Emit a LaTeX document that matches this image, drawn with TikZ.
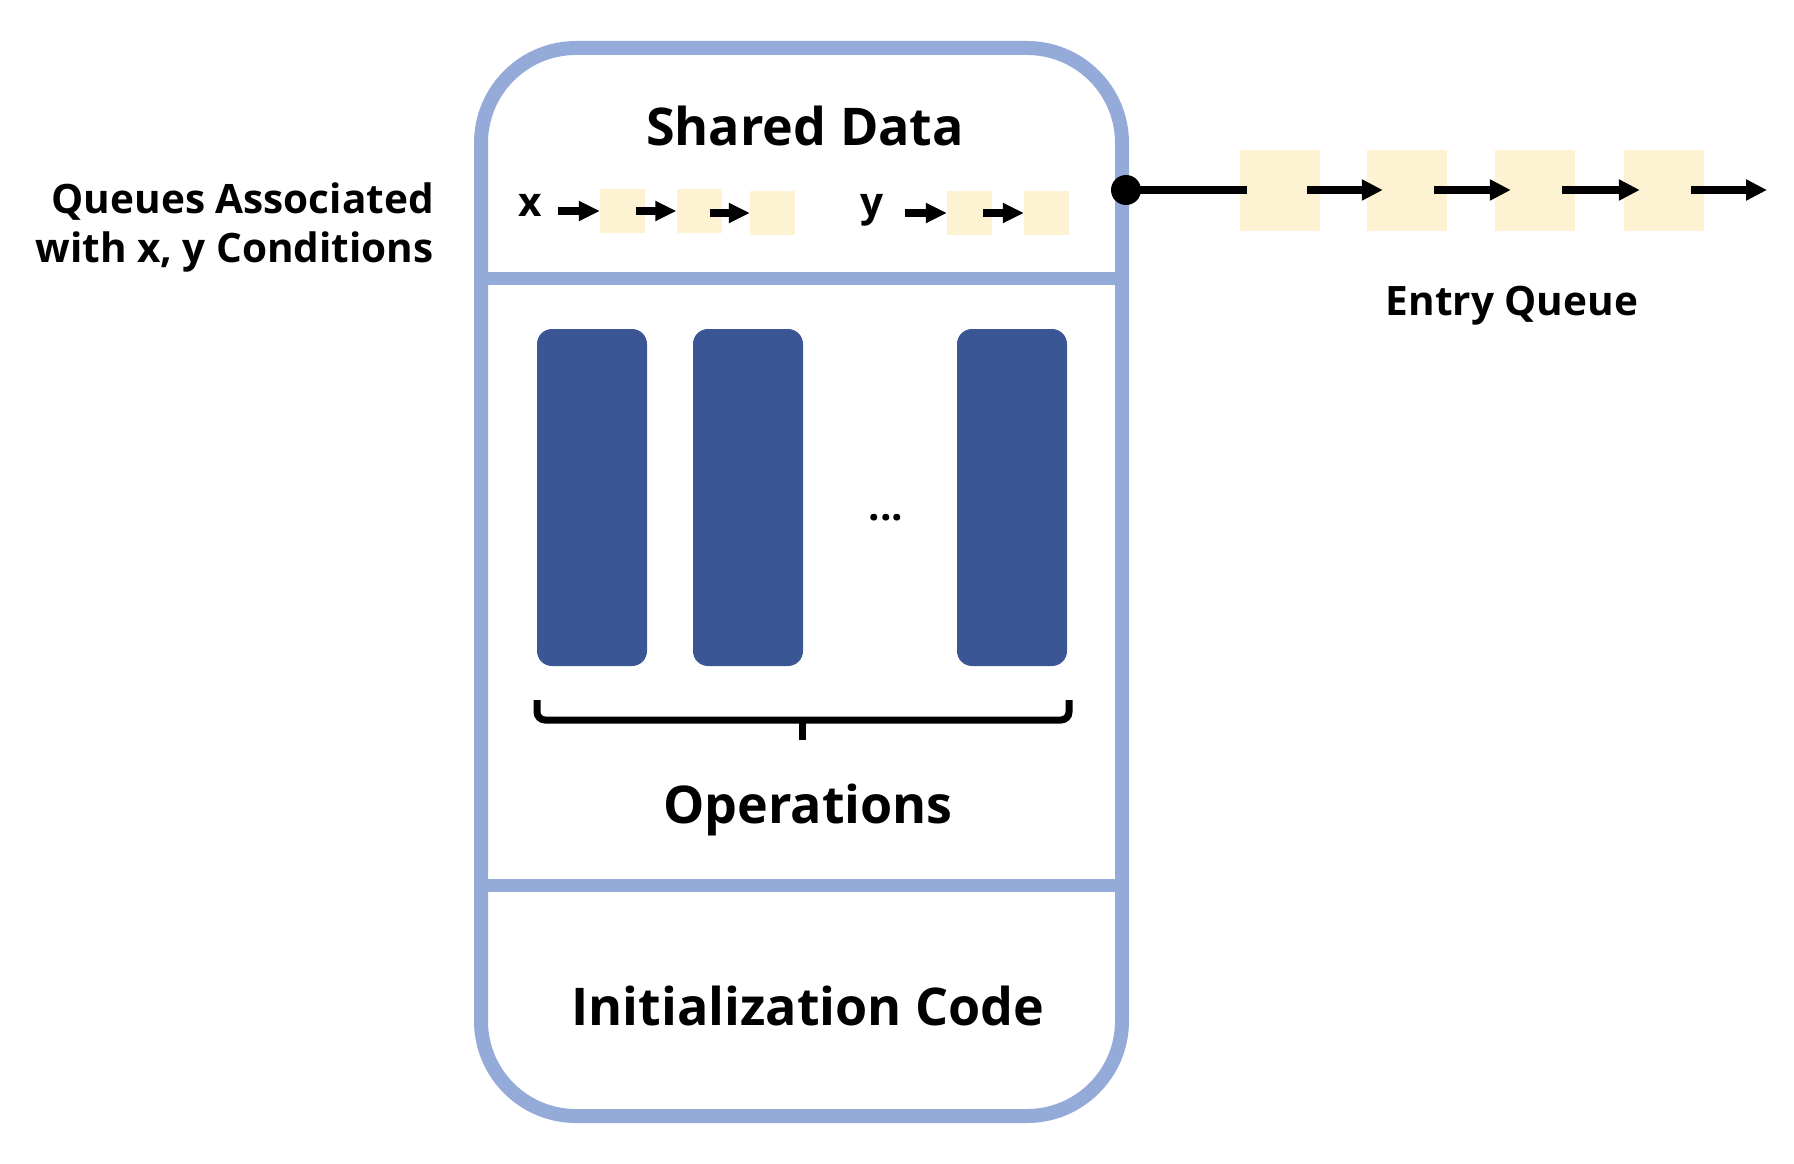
\documentclass[tikz,border=0pt]{standalone}
\usepackage{fontspec}
\setmainfont{Open Sans}
\usetikzlibrary{arrows.meta}
\definecolor{monblue}{RGB}{148,170,216}
\definecolor{opblue}{RGB}{58,86,148}
\definecolor{qfill}{RGB}{253,243,210}
\begin{document}
\begin{tikzpicture}[x=1pt,y=-1pt,
  big/.style={font=\fontsize{52}{60}\selectfont\bfseries, inner sep=0pt, anchor=base},
  small/.style={font=\fontsize{40.5}{44}\selectfont\bfseries, inner sep=0pt},
  qbox/.style={fill=qfill, draw=none, minimum width=45pt, minimum height=44pt, inner sep=0pt},
  ebox/.style={fill=qfill, draw=none, minimum width=80pt, minimum height=81pt, inner sep=0pt},
  opbox/.style={fill=opblue, draw=none, rounded corners=15pt, minimum width=110pt, minimum height=337pt, inner sep=0pt},
  arr/.style={line width=8pt, -{Triangle[length=21pt,width=20pt]}},
  sarr/.style={line width=8pt, -{Triangle[length=21pt,width=19pt]}},
  divider/.style={draw=monblue, line width=13pt},
  bracket/.style={line width=7pt},
]
\useasboundingbox (0,0) rectangle (1794,1164);

% monitor container
\node[draw=monblue, line width=14pt, rounded corners=95pt, minimum width=641pt, minimum height=1068pt, inner sep=0pt] (mon) at (801.5,582) {};
\coordinate (d1) at (0,278);
\coordinate (d2) at (0,885);
\draw[divider] (mon.west |- d1) -- (mon.east |- d1);
\draw[divider] (mon.west |- d2) -- (mon.east |- d2);

% texts
\node[big] (shared) at (805,145) {Shared Data};
\node[big] (ops) at (808,823) {Operations};
\node[big] (init) at (808,1025) {Initialization Code};
\node[small, anchor=base] (eqlabel) at (1512,315) {Entry Queue};
\node[small, anchor=base east] (ql1) at (434,213) {Queues Associated};
\node[small, anchor=base east] (ql2) at (434,262) {with x, y Conditions};

% condition queues
\node[small, anchor=base] (xlab) at (530,216) {x};
\node[small, anchor=base] (ylab) at (872,216) {y};
\node[qbox] (xq1) at (622.5,211) {};
\node[qbox] (xq2) at (699,211) {};
\node[qbox] (xq3) at (772.5,213) {};
\node[qbox] (yq1) at (969.5,213) {};
\node[qbox] (yq2) at (1046.5,213) {};
\coordinate (xs) at (558,211);
\coordinate (ys) at (905,213);
\draw[sarr] (xs) -- (xq1.west);
\draw[sarr] ([xshift=-9pt]xq1.east) -- (xq2.west);
\draw[sarr] ([xshift=-12pt]xq2.east |- xq3.west) -- (xq3.west);
\draw[sarr] (ys) -- (yq1.west);
\draw[sarr] ([xshift=-9pt]yq1.east) -- (yq2.west);

% entry queue
\node[circle, fill=black, minimum size=30pt, inner sep=0pt] (dot) at (1126,190) {};
\node[ebox] (eq1) at (1280,190) {};
\node[ebox] (eq2) at (1407,190) {};
\node[ebox] (eq3) at (1535,190) {};
\node[ebox] (eq4) at (1664,190) {};
\coordinate (eqend) at (1767,190);
\draw[line width=8pt] (dot.center) -- ([xshift=7pt]eq1.west);
\draw[arr] ([xshift=-13pt]eq1.east) -- ([xshift=16pt]eq2.west);
\draw[arr] ([xshift=-13pt]eq2.east) -- ([xshift=16pt]eq3.west);
\draw[arr] ([xshift=-13pt]eq3.east) -- ([xshift=16pt]eq4.west);
\draw[arr] ([xshift=-13pt]eq4.east) -- (eqend);

% operations
\node[opbox] (op1) at (592,497.5) {};
\node[opbox] (op2) at (748,497.5) {};
\node[opbox] (op3) at (1012,497.5) {};
\node[small] (dots) at (886,518) {...};

% brace
\draw[bracket, rounded corners=8pt] (537,700) -- (537,720) -- (1069,720) -- (1069,700);
\draw[bracket] (802,718) -- (802,740);
\end{tikzpicture}
\end{document}
